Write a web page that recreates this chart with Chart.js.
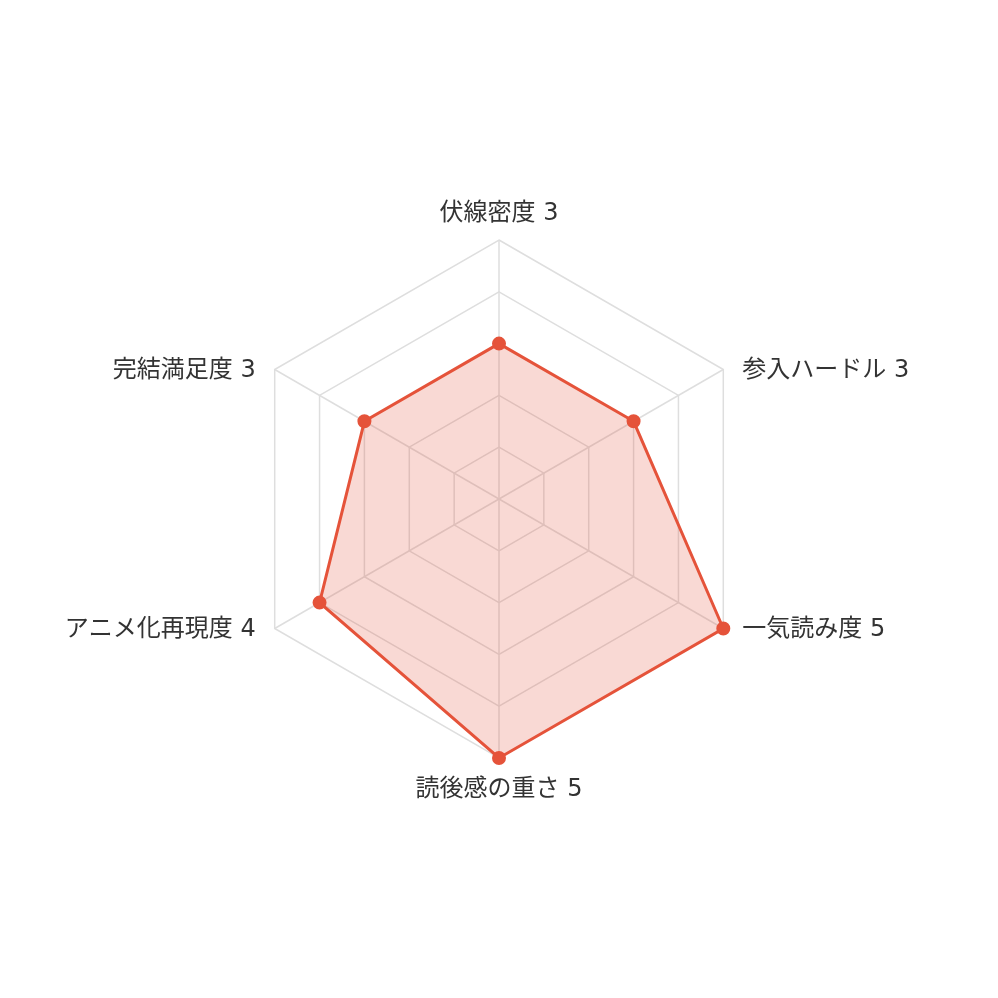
<!DOCTYPE html>
<html lang="ja">
<head>
<meta charset="utf-8"/>
<title>Radar</title>
<script src="https://cdn.jsdelivr.net/npm/chart.js@4.4.1/dist/chart.umd.min.js"></script>
<style>
  html, body { margin: 0; padding: 0; background: #fff; }
  #wrap { width: 998px; height: 998px; }
</style>
</head>
<body>
<div id="wrap"><canvas id="myChart"></canvas></div>
<script>
  // axis names and scores
  const categories = ["伏線密度", "参入ハードル", "一気読み度", "読後感の重さ", "アニメ化再現度", "完結満足度"];
  const scores = [3, 3, 5, 5, 4, 3];
  const scaleMax = 5;

  const lineColor = "#e5533a";
  const labelFont = "24px 'DejaVu Sans', 'Noto Sans CJK JP', sans-serif";

  // point labels drawn at the scale's own corner positions, vertically centred
  // on the corner for the side axes (Chart.js puts them above/below instead)
  const cornerLabels = {
    id: "cornerLabels",
    afterDraw(chart) {
      const scale = chart.scales.r;
      const ctx = chart.ctx;
      ctx.save();
      ctx.font = labelFont;
      ctx.fillStyle = "#333333";
      ctx.textBaseline = "middle";
      chart.data.labels.forEach((text, i) => {
        const pos = scale.getPointPosition(i, scale.drawingArea);
        const s = Math.sin(scale.getIndexAngle(i));
        const c = Math.cos(scale.getIndexAngle(i));
        let x = pos.x, y = pos.y;
        if (Math.abs(s) < 0.1) {
          ctx.textAlign = "center";
          y += c > 0 ? -26 : 32;
        } else {
          ctx.textAlign = s > 0 ? "left" : "right";
          x += s > 0 ? 19 : -19;
          y += 1;
        }
        ctx.fillText(text, x, y);
      });
      ctx.restore();
    }
  };

  new Chart(document.getElementById("myChart"), {
    type: "radar",
    data: {
      labels: categories.map((c, i) => c + " " + scores[i]),
      datasets: [{
        data: scores,
        borderColor: lineColor,
        backgroundColor: "rgba(229, 83, 58, 0.22)",
        borderWidth: 3,
        pointRadius: 6,
        pointBackgroundColor: lineColor,
        pointBorderColor: lineColor,
        pointBorderWidth: 2,
        fill: true
      }]
    },
    plugins: [cornerLabels],
    options: {
      responsive: true,
      maintainAspectRatio: false,
      animation: false,
      layout: { padding: 240 },
      plugins: {
        legend: { display: false },
        tooltip: { enabled: false }
      },
      scales: {
        r: {
          min: 0,
          max: scaleMax,
          ticks: { display: false, stepSize: 1 },
          grid: { color: "#dedede", lineWidth: 1.5 },
          angleLines: { color: "#dedede", lineWidth: 1.5 },
          pointLabels: { display: false }
        }
      }
    }
  });
</script>
</body>
</html>
